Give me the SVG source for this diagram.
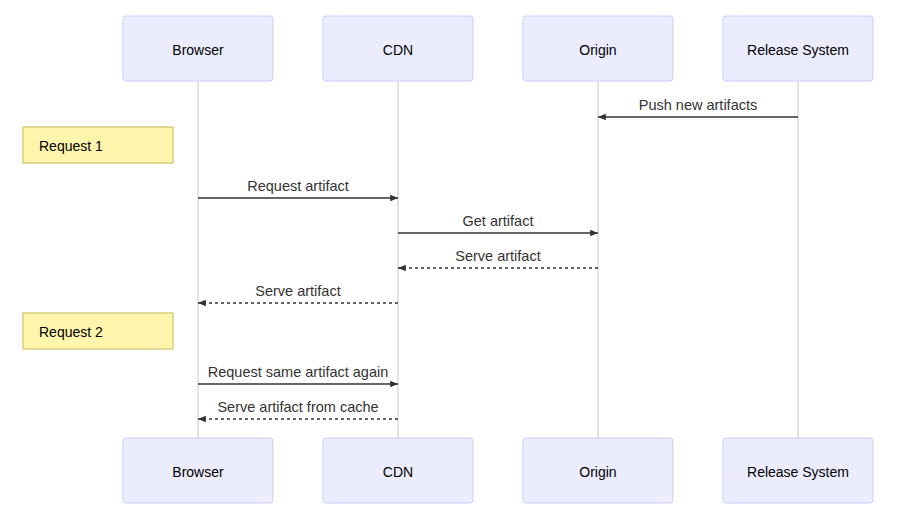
<svg xmlns="http://www.w3.org/2000/svg" width="914" height="521" viewBox="0 0 914 521">
<style>
.actor{fill:#ECECFF;stroke:#CCCCFF;stroke-width:1}
.lbl{font-family:"Liberation Sans",Arial,sans-serif;font-size:14px;fill:#000;text-anchor:middle}
.msgt{font-family:"Liberation Sans",Arial,sans-serif;font-size:14.5px;fill:#333;text-anchor:middle}
.life{stroke:#dadada;stroke-width:1.5}
.msg{stroke:#333;stroke-width:1.5;fill:none;marker-end:url(#ah)}
.dash{stroke-dasharray:3,3}
.note{fill:#FFF5AD;stroke:#D4CF7E;stroke-width:1.5}
.nt{font-family:"Liberation Sans",Arial,sans-serif;font-size:14px;fill:#000}
</style>
<defs>
<marker id="ah" viewBox="0 0 12 10" refX="12" refY="5" markerWidth="8" markerHeight="6.5" markerUnits="userSpaceOnUse" orient="auto">
<path d="M0,0 L12,5 L0,10 z" fill="#333"/>
</marker>
</defs>
<rect width="914" height="521" fill="#fff"/>
<g id="lifelines">
<line class="life" x1="198" y1="81" x2="198" y2="438"/>
<line class="life" x1="398" y1="81" x2="398" y2="438"/>
<line class="life" x1="598" y1="81" x2="598" y2="438"/>
<line class="life" x1="798" y1="81" x2="798" y2="438"/>
</g>
<g id="browser-top"><rect class="actor" x="123" y="16" width="150" height="65" rx="3"/><text class="lbl" x="198" y="55">Browser</text></g>
<g id="cdn-top"><rect class="actor" x="323" y="16" width="150" height="65" rx="3"/><text class="lbl" x="398" y="55">CDN</text></g>
<g id="origin-top"><rect class="actor" x="523" y="16" width="150" height="65" rx="3"/><text class="lbl" x="598" y="55">Origin</text></g>
<g id="release-top"><rect class="actor" x="723" y="16" width="150" height="65" rx="3"/><text class="lbl" x="798" y="55">Release System</text></g>
<g id="browser-bottom"><rect class="actor" x="123" y="438" width="150" height="65" rx="3"/><text class="lbl" x="198" y="477">Browser</text></g>
<g id="cdn-bottom"><rect class="actor" x="323" y="438" width="150" height="65" rx="3"/><text class="lbl" x="398" y="477">CDN</text></g>
<g id="origin-bottom"><rect class="actor" x="523" y="438" width="150" height="65" rx="3"/><text class="lbl" x="598" y="477">Origin</text></g>
<g id="release-bottom"><rect class="actor" x="723" y="438" width="150" height="65" rx="3"/><text class="lbl" x="798" y="477">Release System</text></g>
<g id="note1"><rect class="note" x="23" y="127" width="150" height="36"/><text class="nt" x="39" y="151">Request 1</text></g>
<g id="note2"><rect class="note" x="23" y="313" width="150" height="36"/><text class="nt" x="39" y="337">Request 2</text></g>
<g id="connectors">
<line class="msg" x1="798" y1="117" x2="598" y2="117"/>
<text class="msgt" x="698" y="110">Push new artifacts</text>
<line class="msg" x1="198" y1="198" x2="398" y2="198"/>
<text class="msgt" x="298" y="191">Request artifact</text>
<line class="msg" x1="398" y1="233" x2="598" y2="233"/>
<text class="msgt" x="498" y="226">Get artifact</text>
<line class="msg dash" x1="598" y1="268" x2="398" y2="268"/>
<text class="msgt" x="498" y="261">Serve artifact</text>
<line class="msg dash" x1="398" y1="303" x2="198" y2="303"/>
<text class="msgt" x="298" y="296">Serve artifact</text>
<line class="msg" x1="198" y1="384" x2="398" y2="384"/>
<text class="msgt" x="298" y="377">Request same artifact again</text>
<line class="msg dash" x1="398" y1="419" x2="198" y2="419"/>
<text class="msgt" x="298" y="412">Serve artifact from cache</text>
</g>
</svg>
